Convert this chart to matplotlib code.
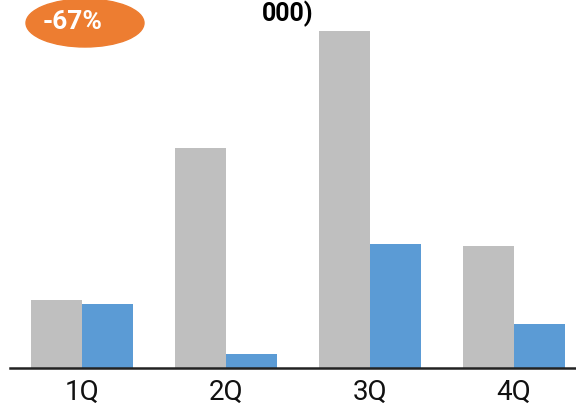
import matplotlib
matplotlib.use("Agg")
import matplotlib.pyplot as plt
from matplotlib.patches import Ellipse
import numpy as np

plt.rcParams['font.family'] = ['Roboto', 'DejaVu Sans']

quarters = ["1Q", "2Q", "3Q", "4Q"]
prev_year = [68, 220, 337, 122]
this_year = [64, 14, 124, 44]
change_label = "-67%"
title = "000)"

GRAY = "#BFBFBF"
BLUE = "#5B9BD5"
ORANGE = "#ED7D31"

fig = plt.figure(figsize=(5.76, 4.07), dpi=100)
ax = fig.add_axes([10 / 576, 39 / 407, 566 / 576, 368 / 407])

x = np.arange(len(quarters))
w = 51 / 144
ax.bar(x - w / 2, prev_year, width=w, color=GRAY)
ax.bar(x + w / 2, this_year, width=w, color=BLUE)

ax.set_xlim(-0.5, 3.43)
ax.set_ylim(0, 368)
ax.set_xticks(x)
ax.set_xticklabels(quarters, fontsize=20, color="#111111")
ax.tick_params(axis="x", length=0, pad=8)
ax.set_yticks([])
for s in ["top", "right", "left"]:
    ax.spines[s].set_visible(False)
ax.spines["bottom"].set_linewidth(1.8)
ax.spines["bottom"].set_color("#222222")

# last line of the title (top of the chart)
fig.text(0.5, 1 - 0.5 / 407, title, ha="center", va="top",
         fontsize=18, fontweight="bold", color="black")

# orange badge
ell = Ellipse((85 / 576, 1 - 23 / 407), 118 / 576, 48 / 407,
              transform=fig.transFigure, color=ORANGE, zorder=5)
fig.patches.append(ell)
fig.text(73 / 576, 1 - 22 / 407, change_label, ha="center", va="center",
         fontsize=19, fontweight="bold", color="white", zorder=6)

fig.savefig("out.png", dpi=100)
